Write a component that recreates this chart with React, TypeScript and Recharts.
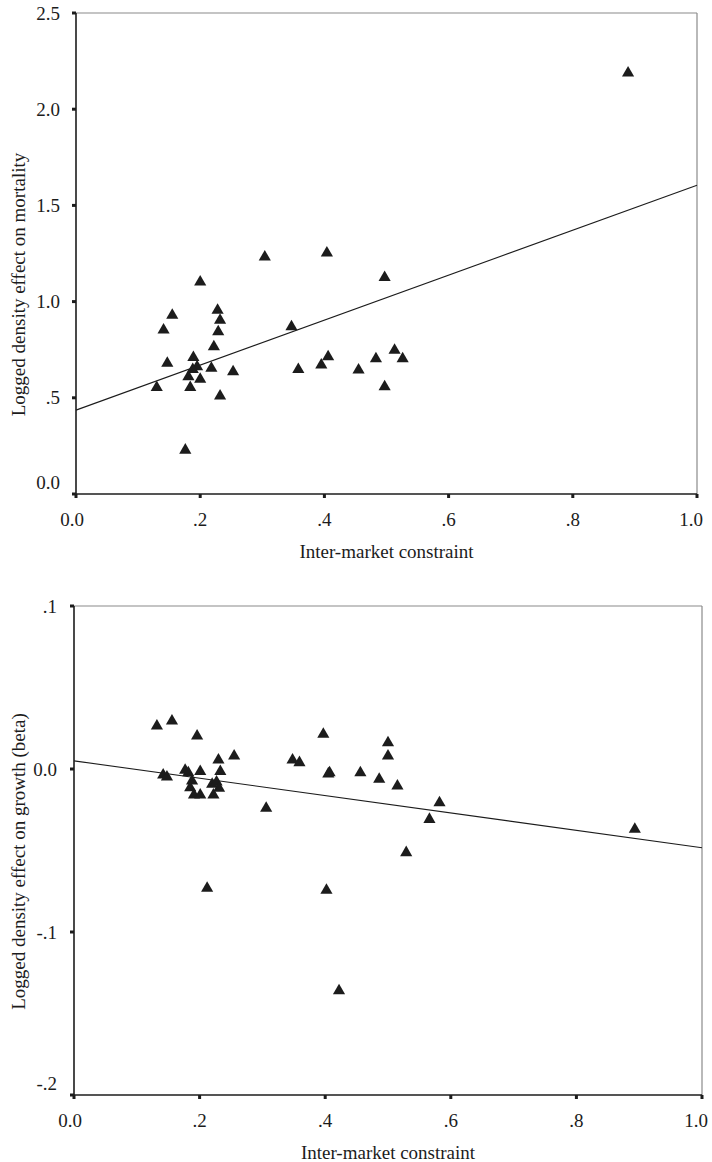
// Two stacked scatter plots of inter-market constraint vs logged density effects,
// each with a fitted regression line and SPSS-style tick labels (".2", "-.1").
import { ScatterChart, Scatter, XAxis, YAxis, ZAxis, ReferenceLine } from "recharts";

const X_TICKS = [0, 0.2, 0.4, 0.6, 0.8, 1.0];
const TOP_Y_TICKS = [0, 0.5, 1.0, 1.5, 2.0, 2.5];
const BOTTOM_Y_TICKS = [-0.2, -0.1, 0, 0.1];

// mortality panel
const TOP_X = [
  0.304, 0.404, 0.2, 0.155, 0.141, 0.228, 0.232, 0.229, 0.222, 0.347, 0.147, 0.189, 0.195, 0.188, 0.218, 0.253,
  0.181, 0.2, 0.184, 0.13, 0.232, 0.176, 0.358, 0.395, 0.406, 0.455, 0.889, 0.497, 0.483, 0.513, 0.526, 0.497,
];
const TOP_Y = [
  1.232, 1.253, 1.102, 0.929, 0.852, 0.955, 0.903, 0.843, 0.765, 0.869, 0.679, 0.71, 0.661, 0.647, 0.653, 0.635,
  0.609, 0.596, 0.554, 0.554, 0.509, 0.228, 0.647, 0.67, 0.713, 0.645, 2.188, 1.125, 0.703, 0.747, 0.703, 0.557,
];
const TOP_FIT = [0.436, 1.605]; // fitted value at x = 0 and x = 1

// growth panel
const BOTTOM_X = [
  0.132, 0.156, 0.196, 0.397, 0.255, 0.23, 0.348, 0.359, 0.142, 0.148, 0.177, 0.182, 0.201, 0.233, 0.407, 0.405,
  0.456, 0.188, 0.22, 0.227, 0.231, 0.185, 0.191, 0.201, 0.222, 0.306, 0.212, 0.402, 0.422, 0.5, 0.5, 0.486,
  0.515, 0.582, 0.566, 0.529, 0.893,
];
const BOTTOM_Y = [
  0.0264, 0.0294, 0.0202, 0.0213, 0.008, 0.0055, 0.0055, 0.0039, -0.0037, -0.0049, -0.0008, -0.0023, -0.0016, -0.0016,
  -0.0023, -0.003, -0.0023, -0.0074, -0.0094, -0.008, -0.0118, -0.0115, -0.016, -0.016, -0.016, -0.0241, -0.0732,
  -0.0744, -0.136, 0.0161, 0.008, -0.0063, -0.0104, -0.0207, -0.0309, -0.0513, -0.037,
];
const BOTTOM_FIT = [0.005, -0.0483];

const FONT = "'Liberation Serif', 'Times New Roman', serif";
const INK = "#1c1c1c";

const fmt = (v: number) => {
  if (Math.abs(v) < 1e-9) return "0.0";
  return v.toFixed(1).replace(/^(-?)0\./, "$1.");
};

const xTick = (props: any) => {
  const { x, y, payload, index } = props;
  const nudge = index === 0 ? -4 : index === X_TICKS.length - 1 ? -6 : 0;
  return (
    <text x={x + nudge} y={y} dy="0.71em" textAnchor="middle" fontFamily={FONT} fontSize={19} fill={INK}>
      {fmt(payload.value)}
    </text>
  );
};

const yTick = (lowest: number) => (props: any) => {
  const { x, y, payload } = props;
  const lift = Math.abs(payload.value - lowest) < 1e-9 ? 12 : 0;
  return (
    <text x={x} y={y - lift} dy="0.35em" textAnchor="end" fontFamily={FONT} fontSize={19} fill={INK}>
      {fmt(payload.value)}
    </text>
  );
};

const yLabel = (text: string, shift: number) => (props: any) => {
  const vb = props.viewBox;
  const cx = 25;
  const cy = vb.y + vb.height / 2 + shift;
  return (
    <text x={cx} y={cy} transform={`rotate(-90 ${cx} ${cy})`} textAnchor="middle" fontFamily={FONT} fontSize={19} fill={INK}>
      {text}
    </text>
  );
};

function Panel({
  xs,
  ys,
  fit,
  yTicks,
  yLabelText,
  labelShift,
  width,
  height,
  margin,
  yAxisWidth,
  tickMargin,
}: {
  xs: number[];
  ys: number[];
  fit: number[];
  yTicks: number[];
  yLabelText: string;
  labelShift: number;
  width: number;
  height: number;
  margin: { top: number; right: number; bottom: number; left: number };
  yAxisWidth: number;
  tickMargin: number;
}) {
  const data = xs.map((x, i) => ({ x, y: ys[i] }));
  const yMin = yTicks[0];
  const yMax = yTicks[yTicks.length - 1];
  return (
    <ScatterChart width={width} height={height} margin={margin}>
      <XAxis
        type="number"
        dataKey="x"
        domain={[0, 1]}
        ticks={X_TICKS}
        height={67}
        tickSize={4}
        tickMargin={15}
        tick={xTick}
        axisLine={{ stroke: INK, strokeWidth: 1.6 }}
        tickLine={{ stroke: INK, strokeWidth: 3 }}
        label={{ value: "Inter-market constraint", position: "insideBottom", offset: 3, fontFamily: FONT, fontSize: 19, fill: INK }}
      />
      <YAxis
        type="number"
        dataKey="y"
        domain={[yMin, yMax]}
        ticks={yTicks}
        width={yAxisWidth}
        tickSize={4}
        tickMargin={tickMargin}
        tick={yTick(yMin)}
        axisLine={{ stroke: INK, strokeWidth: 1.6 }}
        tickLine={{ stroke: INK, strokeWidth: 3 }}
        label={{ content: yLabel(yLabelText, labelShift) }}
      />
      <ZAxis range={[52, 52]} />
      <ReferenceLine y={yMax} stroke="#8a8a8a" strokeWidth={1.2} />
      <ReferenceLine x={1} stroke="#8a8a8a" strokeWidth={1.2} />
      <ReferenceLine
        segment={[
          { x: 0, y: fit[0] },
          { x: 1, y: fit[1] },
        ]}
        stroke={INK}
        strokeWidth={1.1}
      />
      <Scatter data={data} shape="triangle" fill={INK} isAnimationActive={false} />
    </ScatterChart>
  );
}

export default function App() {
  return (
    <div style={{ position: "absolute", left: 0, top: 0, width: 712, height: 1162, background: "#fff" }}>
      <div style={{ position: "absolute", left: 0, top: 0 }}>
        <Panel
          xs={TOP_X}
          ys={TOP_Y}
          fit={TOP_FIT}
          yTicks={TOP_Y_TICKS}
          yLabelText="Logged density effect on mortality"
          labelShift={31}
          width={712}
          height={561}
          margin={{ top: 13, right: 15, bottom: 0, left: 0 }}
          yAxisWidth={76}
          tickMargin={12}
        />
      </div>
      <div style={{ position: "absolute", left: 0, top: 570 }}>
        <Panel
          xs={BOTTOM_X}
          ys={BOTTOM_Y}
          fit={BOTTOM_FIT}
          yTicks={BOTTOM_Y_TICKS}
          yLabelText="Logged density effect on growth (beta)"
          labelShift={11}
          width={712}
          height={592}
          margin={{ top: 36, right: 10, bottom: 0, left: 0 }}
          yAxisWidth={74}
          tickMargin={13}
        />
      </div>
    </div>
  );
}
